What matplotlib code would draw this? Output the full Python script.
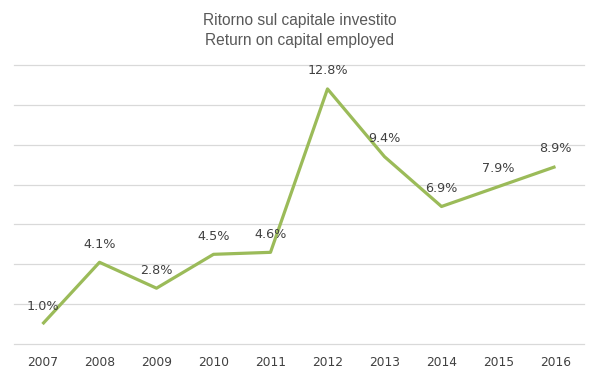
import matplotlib.pyplot as plt

years = ["2007", "2008", "2009", "2010", "2011", "2012", "2013", "2014", "2015", "2016"]
roce = [1.0, 4.1, 2.8, 4.5, 4.6, 12.8, 9.4, 6.9, 7.9, 8.9]

fig = plt.figure(figsize=(5.99, 3.78), dpi=100)
ax = fig.add_axes([14 / 599, 1 - 344 / 378, 570 / 599, 279 / 378])

x = range(len(years))
ax.plot(x, roce, color="#9BBB59", linewidth=2.3, solid_capstyle="butt")

# etichette sopra i punti
for i, v in zip(x, roce):
    ax.annotate(f"{v:.1f}%", (i, v), xytext=(0, 13), textcoords="offset points",
                ha="center", va="center", fontsize=9.2, color="#404040",
                family="DejaVu Sans")

ax.set_xlim(-0.5, len(years) - 0.5)
ax.set_ylim(0, 14)
ax.set_yticks(range(0, 15, 2))
ax.set_yticklabels([])
ax.set_xticks(list(x))
ax.set_xticklabels(years, fontsize=8.8, color="#404040", family="DejaVu Sans")
ax.tick_params(length=0, pad=9)
ax.grid(axis="y", color="#D9D9D9", linewidth=0.9)
for g in ax.get_ygridlines():
    g.set_clip_on(False)
ax.set_axisbelow(True)
for s in ax.spines.values():
    s.set_visible(False)

fig.text(0.5, 1 - 20 / 378, "Ritorno sul capitale investito", ha="center", va="center",
         fontsize=11.2, color="#595959", family="Liberation Sans")
fig.text(0.5, 1 - 41 / 378, "Return on capital employed", ha="center", va="center",
         fontsize=11.2, color="#595959", family="Liberation Sans")

fig.savefig("out.png", dpi=100)
